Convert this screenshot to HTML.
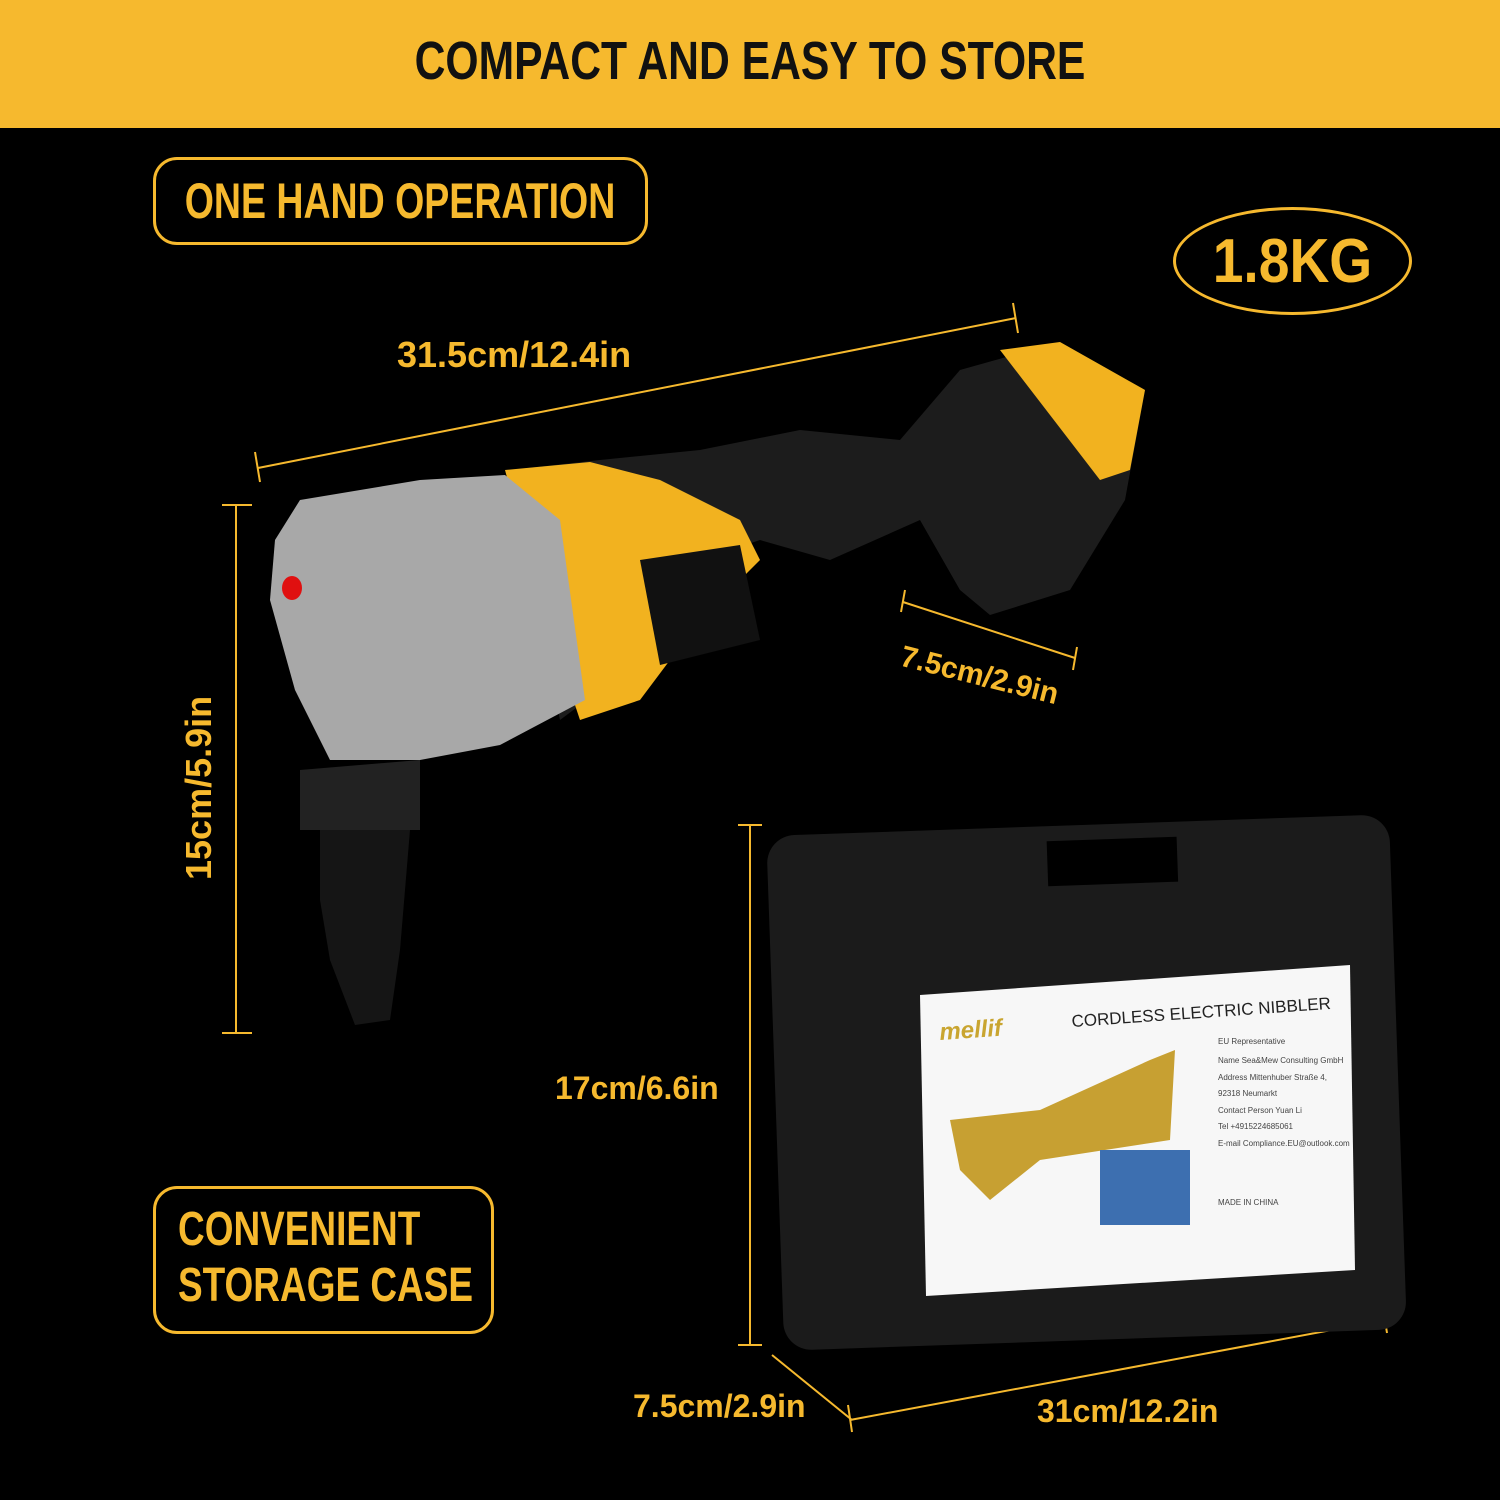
<!DOCTYPE html>
<html><head><meta charset="utf-8"><style>
body{margin:0;width:1500px;height:1500px;background:#000;overflow:hidden;position:relative;font-family:"Liberation Sans",sans-serif;}
.y{color:#f6b92e;font-weight:bold;position:absolute;white-space:nowrap}
.box{position:absolute;border:3px solid #f6b92e;border-radius:24px;box-sizing:border-box}
</style></head><body>
<div style="position:absolute;left:0;top:0;width:1500px;height:128px;background:#f6b92e"></div>
<div style="position:absolute;left:0;top:30px;width:1500px;text-align:center;font-weight:bold;font-size:54px;color:#111;transform:scaleX(0.79);transform-origin:750px 0">COMPACT AND EASY TO STORE</div>

<div class="box" style="left:153px;top:157px;width:495px;height:88px"></div>
<div class="y" style="left:0px;top:172px;width:800px;text-align:center;font-size:50px;transform:scaleX(0.75);transform-origin:center top">ONE HAND OPERATION</div>

<div class="box" style="left:1173px;top:207px;width:239px;height:108px;border-radius:50%"></div>
<div class="y" style="left:1143px;top:226px;width:299px;text-align:center;font-size:62px;transform:scaleX(0.89);transform-origin:center top">1.8KG</div>

<div class="box" style="left:153px;top:1186px;width:341px;height:148px"></div>
<div class="y" style="left:178px;top:1202px;font-size:48px;line-height:56px;transform:scaleX(0.77);transform-origin:left top">CONVENIENT<br>STORAGE CASE</div>

<div class="y" style="left:397px;top:334px;font-size:36px">31.5cm/12.4in</div>
<div class="y" style="left:905px;top:640px;font-size:30px;transform:rotate(14deg);transform-origin:left top">7.5cm/2.9in</div>
<div class="y" style="left:178px;top:880px;font-size:36px;transform:rotate(-90deg);transform-origin:left top">15cm/5.9in</div>
<div class="y" style="left:555px;top:1070px;font-size:32px">17cm/6.6in</div>
<div class="y" style="left:633px;top:1388px;font-size:32px">7.5cm/2.9in</div>
<div class="y" style="left:1037px;top:1393px;font-size:32px">31cm/12.2in</div>

<svg width="1500" height="1500" style="position:absolute;left:0;top:0">
<g stroke="#f6b92e" stroke-width="2" fill="none">
<line x1="258" y1="468" x2="1016" y2="318"/><line x1="255" y1="452" x2="260" y2="482"/><line x1="1013" y1="303" x2="1018" y2="333"/>
<line x1="236" y1="505" x2="236" y2="1033"/><line x1="222" y1="505" x2="252" y2="505"/><line x1="222" y1="1033" x2="252" y2="1033"/>
<line x1="903" y1="602" x2="1075" y2="658"/><line x1="905" y1="590" x2="901" y2="612"/><line x1="1077" y1="647" x2="1073" y2="670"/>
<line x1="750" y1="825" x2="750" y2="1345"/><line x1="738" y1="825" x2="762" y2="825"/><line x1="738" y1="1345" x2="762" y2="1345"/>
<line x1="772" y1="1355" x2="852" y2="1420"/>
<line x1="850" y1="1420" x2="1385" y2="1320"/><line x1="848" y1="1405" x2="852" y2="1432"/><line x1="1383" y1="1308" x2="1387" y2="1333"/>
</g>
<path d="M960 370 L1060 342 L1145 390 L1125 500 L1070 590 L990 615 L960 590 L920 520 L830 560 L760 540 L700 560 L640 580 L600 690 L560 720 L510 470 L600 460 L700 450 L800 430 L900 440 Z" fill="#1c1c1c"/>
<path d="M1000 350 L1060 342 L1145 390 L1130 470 L1100 480 Z" fill="#f2b21f"/>
<path d="M505 470 L590 462 L660 480 L700 500 L740 520 L760 560 L700 620 L640 700 L580 720 L540 600 Z" fill="#f2b21f"/>
<path d="M640 560 L740 545 L760 640 L660 665 Z" fill="#111"/>
<path d="M300 500 L420 480 L505 475 L560 520 L585 700 L500 745 L420 760 L330 760 L295 690 L270 600 L275 540 Z" fill="#a8a8a8"/>
<ellipse cx="292" cy="588" rx="10" ry="12" fill="#e01010"/>
<path d="M300 770 L420 760 L420 830 L300 830 Z" fill="#222"/>
<path d="M320 830 L410 830 L400 950 L390 1020 L355 1025 L330 960 L320 900 Z" fill="#151515"/>
<rect x="775" y="825" width="623" height="515" rx="28" fill="#1b1b1b" transform="rotate(-2 1086 1080)"/>
<rect x="1055" y="840" width="130" height="45" fill="#000" transform="rotate(-2 1086 1080)"/>
<polygon points="920,995 1350,965 1355,1270 926,1296" fill="#f7f7f7"/>
<text x="1072" y="1027" font-family="Liberation Sans" font-size="17" fill="#222" transform="rotate(-4 1072 1027)">CORDLESS ELECTRIC NIBBLER</text>
<text x="940" y="1040" font-family="Liberation Sans" font-style="italic" font-weight="bold" font-size="24" fill="#c9a530" transform="rotate(-4 940 1040)">mellif</text>
<g font-family="Liberation Sans" font-size="8" fill="#444">
<text x="1218" y="1044">EU Representative</text><text x="1218" y="1063">Name Sea&amp;Mew Consulting GmbH</text>
<text x="1218" y="1080">Address Mittenhuber Straße 4,</text><text x="1218" y="1096">92318 Neumarkt</text>
<text x="1218" y="1113">Contact Person Yuan Li</text><text x="1218" y="1129">Tel +4915224685061</text>
<text x="1218" y="1146">E-mail Compliance.EU@outlook.com</text><text x="1218" y="1205">MADE IN CHINA</text>
</g>
<path d="M950 1120 L1040 1110 L1150 1060 L1175 1050 L1170 1140 L1040 1160 L990 1200 L960 1170 Z" fill="#c7a032"/>
<rect x="1100" y="1150" width="90" height="75" fill="#3d6fb0"/>
</svg>
</body></html>
